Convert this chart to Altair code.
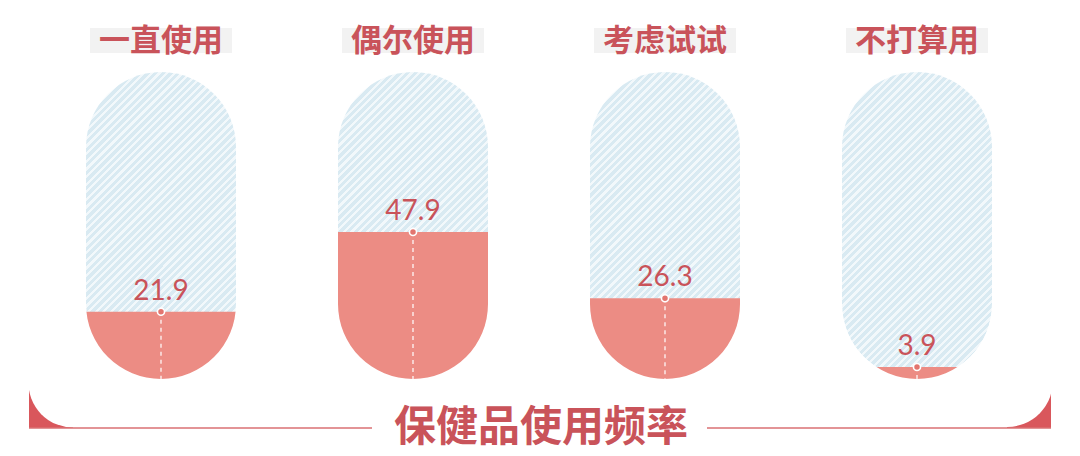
import math
import altair as alt
import pandas as pd

# ---- data ----
categories = ["一直使用", "偶尔使用", "考虑试试", "不打算用"]
values = [21.9, 47.9, 26.3, 3.9]
value_labels = ["21.9", "47.9", "26.3", "3.9"]
title_text = "保健品使用频率"

df = pd.DataFrame({"cat": categories, "value": values, "label": value_labels,
                   "full": [100] * len(categories), "zero": [0] * len(categories)})

# ---- styles ----
RED_TEXT = "#C9535A"
SALMON = "#EC8C84"
DOT = "#E2756F"
BLUE = "#D9EAF2"
STRIPE = "#F2F8FB"
CORNER = "#D9575C"
LINE = "#DA7073"
CAP_W = 150
R = 75

# hatch gradient (stripes "/" at 45 deg in a 150x307 box)
N = 60
frac = 0.58
stops = []
for i in range(N):
    a = i / N
    b = (i + frac) / N
    c = (i + 1) / N
    stops += [{"offset": a, "color": BLUE}, {"offset": b, "color": BLUE},
              {"offset": b, "color": STRIPE}, {"offset": c, "color": STRIPE}]
hatch = alt.LinearGradient(gradient="linear", x1=0, y1=0, x2=0.5872, y2=1.2017, stops=stops)

xs = alt.X("cat:N", sort=categories, axis=None,
           scale=alt.Scale(type="point", domain=categories, range=[153, 909], padding=0))
ys = alt.Scale(domain=[0, 100], range=[371, 64], nice=False, zero=False)

base = alt.Chart(df)

capsule = base.mark_bar(width=CAP_W, cornerRadius=R, color=hatch).encode(
    x=xs, y=alt.Y("full:Q", scale=ys, axis=None), y2="zero:Q")

fill = base.mark_bar(width=CAP_W, color=SALMON).encode(
    x=xs, y=alt.Y("value:Q", scale=ys, axis=None), y2="zero:Q")

mask = base.mark_arc(radius=R + 36, radius2=R, theta=math.pi / 2, theta2=3 * math.pi / 2,
                     color="white", yOffset=-R).encode(
    x=xs, y=alt.Y("zero:Q", scale=ys, axis=None))

dash = base.mark_rule(color="white", strokeWidth=1.2, strokeDash=[4, 4]).encode(
    x=xs, y=alt.Y("value:Q", scale=ys, axis=None), y2="zero:Q")

dot = base.mark_point(filled=True, shape="circle", size=50, color=DOT, opacity=1,
                      stroke="white", strokeWidth=1.6).encode(
    x=xs, y=alt.Y("value:Q", scale=ys, axis=None))

vtext = base.mark_text(font="Lato", fontSize=28, color=RED_TEXT, baseline="alphabetic",
                       dy=-12).encode(
    x=xs, y=alt.Y("value:Q", scale=ys, axis=None), text="label:N")

labelbox = base.mark_bar(width=142, color="#F2F2F2", yOffset=-44, y2Offset=-19).encode(
    x=xs, y=alt.Y("full:Q", scale=ys, axis=None), y2="full:Q")

labeltext = base.mark_text(font="Noto Sans CJK SC", fontSize=31, fontWeight="bold",
                           color=RED_TEXT, baseline="middle", dy=-30).encode(
    x=xs, y=alt.Y("full:Q", scale=ys, axis=None), text="cat:N")

# ---- bottom bracket ----
deco = alt.Chart(pd.DataFrame({"k": [0]}))
corner_l = deco.mark_rect(color=CORNER).encode(
    x=alt.value(21), x2=alt.value(65), y=alt.value(375), y2=alt.value(420))
corner_r = deco.mark_rect(color=CORNER).encode(
    x=alt.value(999), x2=alt.value(1043), y=alt.value(373), y2=alt.value(420))
cut_l = deco.mark_arc(radius=44.5, theta=math.pi - 0.04, theta2=1.5 * math.pi + 0.06,
                      color="white").encode(x=alt.value(65), y=alt.value(375))
cut_r = deco.mark_arc(radius=46, theta=math.pi / 2 - 0.06, theta2=math.pi + 0.04,
                      color="white").encode(x=alt.value(999), y=alt.value(373))
line_l = deco.mark_rule(color=LINE, strokeWidth=1.6).encode(
    x=alt.value(21), x2=alt.value(364), y=alt.value(420))
line_r = deco.mark_rule(color=LINE, strokeWidth=1.6).encode(
    x=alt.value(699), x2=alt.value(1043), y=alt.value(420))
title = deco.mark_text(font="Noto Sans CJK SC", fontSize=42, fontWeight="bold",
                       color=RED_TEXT, baseline="middle").encode(
    x=alt.value(533), y=alt.value(420), text=alt.value(title_text))

chart = alt.layer(
    capsule, fill, mask, dash, dot, vtext, labelbox, labeltext,
    corner_l, corner_r, cut_l, cut_r, line_l, line_r, title
).properties(
    width=1064, height=440, autosize=alt.AutoSizeParams(type="none"), padding=0,
    background="white"
).configure_view(stroke=None)

chart.save("out.html", embed_options={"renderer": "svg", "actions": False})
